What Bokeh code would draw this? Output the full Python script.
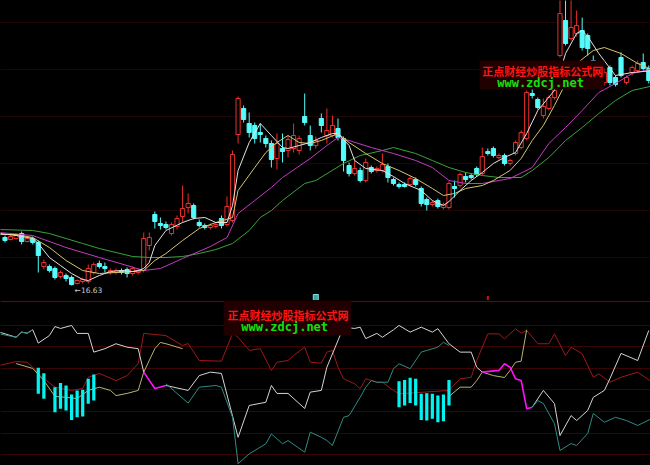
from bokeh.plotting import figure
from bokeh.layouts import column
from bokeh.models import Range1d, FixedTicker, Grid, BoxAnnotation, Label, Span, ColumnDataSource
from bokeh.embed import file_html
from bokeh.resources import INLINE

nan = float("nan")

# ---------------- price data (daily candles) ----------------
open_ = [17.59, 17.55, 17.57, 17.67, 17.51, 17.57, 17.49, 17.01, 17.01, 16.97,
         16.81, 16.83, 16.79, 16.67, 16.71, 16.71, 16.89, 17.07, 17.01, 16.89,
         16.89, 16.93, 16.95, 16.87, 16.89, 16.93, 17.43, 18.05, 17.87, 17.85,
         17.67, 17.81, 18.01, 18.19, 18.23, 17.89, 17.83, 17.79, 17.81, 17.97,
         17.85, 17.93, 19.65, 20.17, 19.87, 19.83, 19.69, 19.57, 19.47, 19.17,
         19.37, 19.33, 19.37, 19.33, 20.01, 19.63, 19.43, 19.97, 19.63, 19.63,
         19.77, 19.57, 19.03, 18.87, 18.93, 18.73, 18.99, 18.93, 18.93, 19.01,
         18.75, 18.65, 18.65, 18.65, 18.75, 18.57, 18.35, 18.25, 18.33, 18.19,
         18.19, 18.61, 18.63, 18.81, 18.83, 18.97, 18.87, 19.31, 19.37, 19.19,
         19.23, 19.07, 19.27, 19.39, 19.57, 20.47, 20.35, 20.03, 20.17, 20.39,
         21.23, 21.93, 21.57, 21.67, 21.73, 21.63, 21.13, 20.93, 20.69, 20.99,
         20.79, 21.19, 20.69, 20.89, 20.93, 21.09, 20.97]
close = [17.53, 17.61, 17.63, 17.51, 17.57, 17.49, 17.23, 17.09, 16.93, 16.79,
         16.89, 16.77, 16.65, 16.73, 16.75, 16.97, 17.05, 17.01, 16.97, 16.93,
         16.93, 16.89, 16.87, 16.97, 16.93, 17.57, 17.59, 17.91, 17.83, 17.79,
         17.85, 17.97, 18.17, 18.27, 17.99, 17.83, 17.79, 17.83, 17.85, 17.83,
         18.21, 19.25, 20.37, 19.95, 19.69, 19.57, 19.65, 19.47, 19.15, 19.47,
         19.31, 19.55, 19.63, 19.57, 19.89, 19.43, 19.53, 19.83, 19.73, 19.83,
         19.59, 19.13, 18.87, 18.97, 18.73, 19.09, 18.91, 18.97, 19.05, 18.79,
         18.67, 18.61, 18.61, 18.77, 18.65, 18.27, 18.25, 18.29, 18.21, 18.25,
         18.67, 18.57, 18.85, 18.75, 18.79, 18.85, 19.21, 19.27, 19.23, 19.23,
         19.07, 19.13, 19.49, 19.69, 20.49, 20.43, 20.19, 20.21, 20.39, 20.53,
         22.07, 21.47, 21.79, 21.83, 21.39, 21.37, 20.93, 20.73, 20.89, 20.69,
         20.65, 20.83, 20.79, 20.99, 21.07, 20.97, 20.73]
high = [17.63, 17.65, 17.67, 17.71, 17.61, 17.61, 17.53, 17.15, 17.05, 17.01,
        16.93, 16.87, 16.83, 16.75, 16.79, 17.05, 17.09, 17.13, 17.09, 16.97,
        16.97, 16.97, 16.99, 17.01, 16.97, 17.69, 17.69, 18.11, 17.99, 17.91,
        17.89, 18.03, 18.63, 18.47, 18.27, 17.95, 17.87, 17.87, 17.89, 18.03,
        18.41, 19.33, 20.41, 20.23, 20.09, 19.89, 19.87, 19.63, 19.53, 19.67,
        19.67, 19.63, 19.87, 19.63, 20.47, 19.83, 19.61, 20.07, 20.17, 20.03,
        19.97, 19.61, 19.09, 19.19, 18.99, 19.17, 19.03, 19.01, 19.27, 19.07,
        18.79, 18.69, 18.69, 18.81, 18.79, 18.61, 18.39, 18.33, 18.37, 18.29,
        18.71, 18.73, 18.89, 18.89, 18.87, 19.01, 19.39, 19.37, 19.41, 19.27,
        19.27, 19.17, 19.53, 19.73, 20.53, 20.57, 20.39, 20.37, 20.43, 20.57,
        22.43, 22.43, 22.37, 22.13, 21.99, 21.67, 21.23, 21.03, 20.97, 21.03,
        20.83, 21.29, 20.83, 21.03, 21.13, 21.27, 21.03]
low = [17.49, 17.53, 17.55, 17.45, 17.49, 17.45, 16.89, 16.95, 16.89, 16.75,
       16.77, 16.71, 16.63, 16.65, 16.67, 16.67, 16.85, 16.97, 16.89, 16.85,
       16.85, 16.85, 16.79, 16.83, 16.85, 16.89, 17.33, 17.77, 17.75, 17.75,
       17.63, 17.75, 17.89, 18.07, 17.95, 17.79, 17.75, 17.75, 17.77, 17.77,
       17.81, 17.89, 19.47, 19.89, 19.59, 19.47, 19.49, 19.39, 18.99, 18.95,
       19.09, 19.19, 19.29, 19.25, 19.83, 19.33, 19.37, 19.69, 19.47, 19.59,
       19.53, 18.91, 18.81, 18.83, 18.69, 18.69, 18.87, 18.89, 18.89, 18.69,
       18.63, 18.57, 18.59, 18.61, 18.61, 18.21, 18.13, 18.21, 18.17, 18.15,
       18.15, 18.39, 18.59, 18.69, 18.75, 18.81, 18.83, 19.23, 19.19, 19.15,
       19.03, 19.03, 19.23, 19.35, 19.53, 20.37, 20.15, 19.97, 20.13, 20.35,
       21.19, 21.43, 21.53, 21.61, 21.33, 21.23, 20.83, 20.63, 20.63, 20.63,
       20.61, 20.79, 20.65, 20.83, 20.89, 20.93, 20.67]

# ---------------- moving averages ----------------
ma5_x = [-1, 2, 5, 6, 8, 10, 12, 14, 15, 17, 19, 21, 23, 24, 25, 26, 27, 29, 32, 34,
         36, 38, 40, 41, 42, 44, 46, 48, 50, 51, 53, 55, 57, 59, 60, 62, 63, 65, 68, 70,
         72, 75, 77, 79, 80, 82, 84, 86, 88, 90, 92, 94, 96, 99, 101, 103, 104, 105, 107, 110,
         113, 117]
ma5_v = [17.67, 17.63, 17.57, 17.47, 17.19, 17.03, 16.87, 16.75, 16.73, 16.83,
         16.91, 16.93, 16.91, 16.93, 16.97, 17.09, 17.43, 17.73, 17.89, 17.97,
         17.99, 17.89, 17.89, 18.23, 18.93, 19.49, 19.87, 19.63, 19.39, 19.37,
         19.43, 19.49, 19.59, 19.67, 19.67, 19.43, 19.13, 18.97, 18.93, 18.81,
         18.67, 18.53, 18.33, 18.23, 18.31, 18.53, 18.73, 18.89, 19.07, 19.19,
         19.29, 19.67, 20.13, 20.53, 21.27, 21.67, 21.73, 21.61, 21.27, 20.83,
         20.89, 20.93]
ma10_x = [-1, 2, 5, 8, 11, 14, 17, 20, 23, 25, 27, 29, 32, 35, 38, 41, 42, 45, 47, 49,
          51, 53, 55, 57, 60, 62, 65, 68, 71, 74, 77, 79, 81, 83, 86, 88, 91, 93, 95, 97,
          99, 101, 103, 106, 108, 111, 114, 117]
ma10_v = [17.65, 17.65, 17.59, 17.39, 17.13, 16.93, 16.87, 16.89, 16.91, 16.93,
          17.13, 17.27, 17.53, 17.77, 17.89, 17.99, 18.53, 18.99, 19.29, 19.49,
          19.63, 19.49, 19.47, 19.53, 19.67, 19.49, 19.27, 19.07, 18.93, 18.77,
          18.57, 18.43, 18.47, 18.57, 18.63, 18.73, 18.93, 19.17, 19.53, 19.83,
          20.23, 20.67, 21.07, 21.33, 21.39, 21.27, 21.07, 20.93]
ma20_x = [-1, 5, 11, 17, 22, 25, 28, 32, 37, 40, 42, 45, 48, 50, 55, 58, 60, 62, 66, 70,
          74, 77, 80, 83, 86, 89, 91, 95, 98, 101, 104, 107, 110, 113, 117]
ma20_v = [17.69, 17.63, 17.39, 17.19, 17.03, 16.93, 16.97, 17.17, 17.41, 17.59,
          18.07, 18.33, 18.59, 18.79, 19.17, 19.43, 19.59, 19.53, 19.39, 19.27,
          19.13, 18.99, 18.73, 18.67, 18.67, 18.73, 18.77, 18.99, 19.47, 19.79,
          20.13, 20.49, 20.67, 20.87, 20.97]
ma30_x = [-1, 5, 8, 11, 14, 17, 20, 23, 26, 29, 32, 35, 38, 41, 44, 46, 48, 50, 54, 56,
          61, 64, 68, 70, 74, 77, 80, 83, 86, 89, 93, 95, 98, 101, 104, 107, 110, 113, 117]
ma30_v = [17.75, 17.73, 17.67, 17.57, 17.47, 17.37, 17.29, 17.21, 17.19, 17.19,
          17.21, 17.27, 17.35, 17.47, 17.73, 17.99, 18.13, 18.33, 18.67, 18.73,
          19.07, 19.23, 19.33, 19.39, 19.27, 19.13, 18.99, 18.89, 18.83, 18.79,
          18.79, 18.93, 19.19, 19.53, 19.79, 20.07, 20.33, 20.53, 20.63]

# ---------------- lower indicator panel ----------------
white_x = [-1, 2, 3, 4, 5, 6, 8, 9, 10, 12, 13, 15, 16, 18, 20, 22, 24, 25, nan,
           29, 33, 35, 37, 39, 42, 44, 47, 48, 49, 51, 54, 55, 57, 58, 61, 63, 64, 65, 67,
           68, 70, 71, 73, 75, 77, 78, 80, 82, 84, 85, 86, nan,
           95, 97, 99, 100, 102, 103, 105, 106, 108, 109, 111, 114, 116]
white_v = [56.9, 54.5, 56.9, 56.4, 58.0, 51.8, 55.3, 59.5, 58.6, 60.0, 56.3, 56.3, 47.6, 49.2, 51.5, 49.9, 49.2, 38.3, nan,
           32.1, 29.8, 36.7, 38.3, 37.7, 8.0, 22.8, 24.3, 32.1, 28.4, 28.4, 21.4, 29.0, 29.8, 40.6, 59.2, 58.6, 59.2, 53.9, 56.3,
           54.5, 58.0, 60.0, 56.9, 59.2, 56.9, 58.5, 51.5, 47.6, 47.6, 40.6, 38.3, nan,
           22.0, 29.8, 23.7, 8.8, 18.1, 15.8, 20.5, 26.6, 29.8, 35.3, 47.0, 43.7, 57.7]
teal_x = [-1, 2, 3, 4, 5, nan,
          29, 33, 35, 38, 39, 41, 42, 44, 47, 48, 50, 51, 54, 55, 57, 58, 59, 61, 62, 64, 65,
          66, 67, 69, 70, 71, 73, 75, 76, 78, 79, 80, nan,
          95, 96, 97, 99, 100, 102, 103, 105, 106, 108, 110, 112, 114, 117]
teal_v = [56.1, 54.5, 56.9, 56.4, 58.0, nan,
          32.9, 23.9, 31.3, 32.1, 31.3, 17.3, -4.3, 0.3, 5.0, 9.6, 5.0, 6.5, 1.1, 10.4, 8.0, 6.5, 4.2, 17.3, 18.1, 26.6, 31.3,
          34.4, 33.6, 33.6, 39.9, 42.2, 39.9, 47.6, 48.4, 49.9, 52.2, 50.7, nan,
          22.0, 25.1, 23.7, 14.4, 1.9, 5.1, 4.2, 9.8, 19.1, 15.0, 17.3, 15.8, 13.5, 17.3]
red_x = [-1, 2, 4, 5, 7, 9, 12, 14, 15, 17, 20, 22, 24, 25, 29, 32, 33, 35, 39, 41,
         42, 44, 46, 48, 49, 51, 52, 54, 55, 57, 58, 59, 60, 61, 63, 64, 65, 67, 68, 70,
         71, 80, 82, 84, 85, 87, 89, 90, 92, 93, 94, 96, 98, 99, 101, 102, 104, 106, 107, 109,
         111, 114, 117]
red_v = [41.4, 43.2, 42.9, 40.6, 35.3, 31.3, 29.8, 30.7, 35.9, 37.7,
         34.4, 36.7, 42.3, 56.3, 55.3, 50.7, 51.6, 43.7, 43.4, 56.3,
         54.5, 48.4, 49.2, 39.1, 42.9, 43.7, 46.0, 49.9, 42.9, 42.5,
         47.6, 48.4, 40.6, 35.2, 32.9, 30.6, 35.2, 33.6, 33.6, 29.8,
         28.2, 29.8, 35.2, 35.9, 43.7, 56.1, 56.1, 53.8, 58.5, 56.4,
         57.7, 51.5, 51.5, 56.1, 46.0, 49.9, 46.8, 35.9, 37.5, 33.6,
         35.9, 38.3, 32.9]
olive_x = [2, 5, 7, 9, 11, 13, 15, 17, 19, 20, 22, 24, 25, 27, 28, 29, 32, nan,
           80, 82, 84, 85, 86, 88, 90, 91, 92, 93, 94]
olive_v = [42.3, 40.0, 34.4, 27.0, 26.6, 26.0, 29.8, 31.3, 29.8, 27.4, 28.4, 29.8, 38.3, 49.2, 52.1, 51.5, 49.2, nan,
           27.0, 31.3, 31.3, 34.4, 38.3, 36.7, 35.8, 39.1, 42.9, 43.4, 58.0]
mag_x = [25, 27, 29, nan, 86, 89, 90, 91, 92, 93, 94, 95]
mag_v = [38.3, 30.7, 32.1, nan, 38.3, 39.1, 42.2, 40.6, 35.2, 34.4, 21.3, 22.0]
bar_x = [6, 7, 9, 10, 11, 12, 13, 14, 15, 16, 71, 72, 73, 74, 75, 76, 77, 78, 79, 80]
bar_top = [40.3, 37.8, 31.3, 33.2, 32.1, 27.9, 29.8, 30.1, 35.2, 37.2,
           34.1, 34.7, 35.7, 35.2, 28.2, 28.5, 28.2, 27.4, 27.9, 34.7]
bar_bot = [28.2, 25.9, 19.7, 21.3, 20.5, 16.1, 17.3, 17.7, 23.6, 25.1,
           22.0, 22.8, 23.9, 22.8, 16.1, 15.8, 16.6, 15.0, 15.5, 22.8]

# event markers under the price panel
info_x = [56]
info_y = [16.39]
tick_x = [87]
tick_y = [16.37]

top_grid = [21.89, 20.95, 20.01, 19.07, 18.13, 17.19]
bot_grid = [0, 10, 20, 30, 40, 50, 60]

RED = "#e8302c"
CYAN = "#54fcfc"
BG = "#000000"

n = len(open_)
idx = list(range(n))
body_top = [max(o, c) for o, c in zip(open_, close)]
body_bot = [min(o, c) for o, c in zip(open_, close)]
is_up = [c >= o for o, c in zip(open_, close)]
colors = [RED if u else CYAN for u in is_up]

xr = Range1d(-0.81, 116.31)


def make_fig(h, yr, ticks, gcolor):
    f = figure(width=650, height=h, x_range=xr, y_range=yr,
               output_backend="svg", toolbar_location=None,
               x_axis_location=None, y_axis_location=None, min_border=0,
               background_fill_color=BG, border_fill_color=BG, outline_line_color=None)
    f.grid.visible = False
    f.add_layout(Grid(dimension=1, ticker=FixedTicker(ticks=ticks),
                      grid_line_color=gcolor, grid_line_width=1))
    return f


p1 = make_fig(300, Range1d(16.33, 22.33), top_grid, "#210505")

src = ColumnDataSource(dict(x=idx, top=body_top, bot=body_bot, high=high, low=low, color=colors))
p1.segment(x0="x", y0="high", x1="x", y1="top", color="color", line_width=1, source=src)
p1.segment(x0="x", y0="bot", x1="x", y1="low", color="color", line_width=1, source=src)

up_src = ColumnDataSource(dict(x=[i for i in idx if is_up[i]],
                               top=[body_top[i] for i in idx if is_up[i]],
                               bot=[body_bot[i] for i in idx if is_up[i]]))
dn_src = ColumnDataSource(dict(x=[i for i in idx if not is_up[i]],
                               top=[body_top[i] for i in idx if not is_up[i]],
                               bot=[body_bot[i] for i in idx if not is_up[i]]))
p1.vbar(x="x", width=0.75, top="top", bottom="bot", fill_color=BG, line_color=RED, line_width=1, source=up_src)
p1.vbar(x="x", width=0.75, top="top", bottom="bot", fill_color=CYAN, line_color=CYAN, line_width=1, source=dn_src)

p1.line(ma30_x, ma30_v, line_color="#3aa23a", line_width=1)
p1.line(ma20_x, ma20_v, line_color="#c23cc2", line_width=1)
p1.line(ma10_x, ma10_v, line_color="#d2c670", line_width=1)
p1.line(ma5_x, ma5_v, line_color="#e2e2e2", line_width=1)

p1.rect(x=info_x, y=info_y, width=5, height=6, width_units="screen", height_units="screen",
        fill_color="#3aa8a8", line_color="#7fe0e0")
p1.rect(x=tick_x, y=tick_y, width=2, height=5, width_units="screen", height_units="screen",
        fill_color="#d01010", line_color=None)

lo_i = min(idx, key=lambda i: low[i])
p1.add_layout(Label(x=lo_i, y=low[lo_i], text="\u2190%.2f" % low[lo_i], x_offset=3, y_offset=-5,
                    text_align="left", text_baseline="middle", text_color="#cccccc",
                    text_font="DejaVu Sans", text_font_size="7.5px"))

p1.add_layout(BoxAnnotation(left=85.5, right=108.0, top=21.13, bottom=20.55,
                            fill_color="#200000", fill_alpha=1.0, line_color=None))
p1.add_layout(Label(x=96.9, y=20.93, text="正点财经炒股指标公式网", text_align="center",
                    text_baseline="middle", text_color="#ff1414", text_font="Noto Sans CJK SC",
                    text_font_style="bold", text_font_size="11px"))
p1.add_layout(Label(x=96.5, y=20.68, text="www.zdcj.net", text_align="center",
                    text_baseline="middle", text_color="#10e010", text_font="DejaVu Sans Mono",
                    text_font_style="bold", text_font_size="12px"))

p2 = make_fig(165, Range1d(-5.1, 71.6), bot_grid, "#3a0404")
p2.add_layout(Span(location=71.1, dimension="width", line_color="#820000", line_width=1))

p2.line(red_x, red_v, line_color="#a01818", line_width=1)
p2.line(olive_x, olive_v, line_color="#b8b46a", line_width=1)
p2.line(white_x, white_v, line_color="#d4d4d4", line_width=1)
p2.line(teal_x, teal_v, line_color="#2e8c82", line_width=1)
p2.line(mag_x, mag_v, line_color="#ff10ff", line_width=1.6)
p2.vbar(x=bar_x, width=0.58, top=bar_top, bottom=bar_bot, fill_color="#00f4f4", line_color=None)

p2.add_layout(BoxAnnotation(left=39.4, right=62.4, top=72.0, bottom=55.3,
                            fill_color="#200000", fill_alpha=1.0, line_color=None))
p2.add_layout(Label(x=51.0, y=64.9, text="正点财经炒股指标公式网", text_align="center",
                    text_baseline="middle", text_color="#ff1414", text_font="Noto Sans CJK SC",
                    text_font_style="bold", text_font_size="11px"))
p2.add_layout(Label(x=50.4, y=59.5, text="www.zdcj.net", text_align="center",
                    text_baseline="middle", text_color="#10e010", text_font="DejaVu Sans Mono",
                    text_font_style="bold", text_font_size="12px"))

layout = column(p1, p2, spacing=0)
html = file_html(layout, INLINE, title="chart")
html = html.replace("<head>", "<head><style>html,body{background:#000000;}</style>", 1)
open("out.html", "w").write(html)
